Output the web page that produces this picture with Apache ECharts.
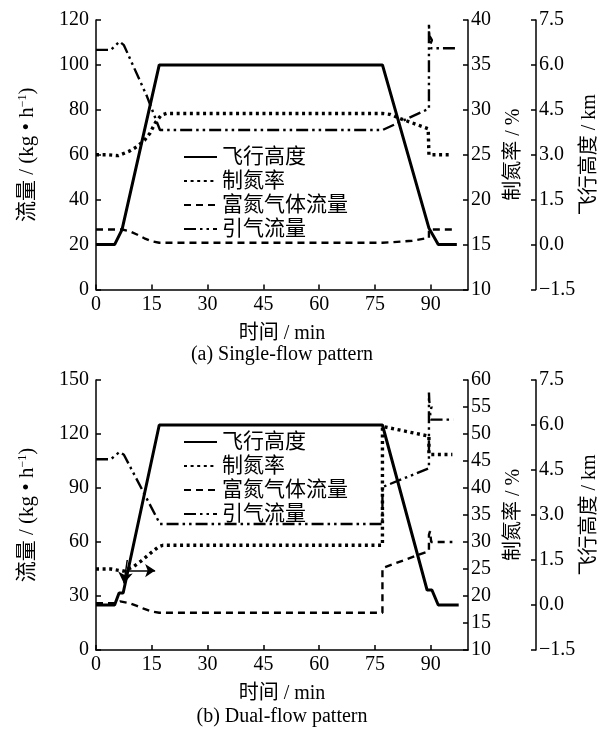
<!DOCTYPE html>
<html>
<head>
<meta charset="utf-8">
<script src="https://cdn.jsdelivr.net/npm/echarts@6/dist/echarts.min.js"></script>
<style>
  html, body { margin: 0; padding: 0; background: #fff; }
  #chart { width: 601px; height: 732px; }
</style>
</head>
<body>
<div id="chart"></div>
<script>
// ---------- (a) Single-flow pattern ----------
const altA_t   = [0, 5, 7, 17, 77, 89.5, 92, 97];
const altA     = [0, 0, 0.5, 6, 6, 0.55, 0, 0];                       // km

const rateA_t  = [0, 3, 6, 9, 11, 13, 14.5, 16, 17.5, 19, 77, 79, 82, 86, 89.3, 89.5, 95];
const rateA    = [25, 25, 24.9, 25.4, 25.9, 26.6, 27.4, 28.6, 29.4, 29.6, 29.6, 29.5, 29.0, 28.4, 27.9, 25, 25]; // %

const nflowA_t = [0, 7, 9, 11, 13, 15, 17, 77, 80, 85, 89.5, 89.5, 97];
const nflowA   = [26.7, 26.7, 26, 24.5, 22.8, 21.5, 20.8, 20.8, 21.1, 21.7, 23, 26.7, 26.7]; // kg/h

const bleedA_t = [0, 4, 6.3, 7.5, 13.7, 17.2, 77, 89.5, 89.5, 89.6, 90.3, 89.8, 90, 97];
const bleedA   = [106.7, 106.7, 110.4, 108.8, 86, 71, 71, 80.5, 118.5, 113, 111, 109, 107.4, 107.4]; // kg/h

// ---------- (b) Dual-flow pattern ----------
const altB_t   = [0, 5, 6.2, 7.3, 17, 77, 89, 90.3, 92, 97.5];
const altB     = [0, 0, 0.4, 0.4, 6, 6, 0.5, 0.5, 0, 0];

const rateB_t  = [0, 4, 7.4, 10, 12, 14.6, 16.8, 18, 77, 77, 89.5, 89.5, 95.8];
const rateB    = [25, 25, 24.6, 25.4, 26.4, 27.9, 29.1, 29.4, 29.4, 51.4, 49.6, 46.2, 46.2];

const nflowB_t = [0, 5, 6.5, 9, 11, 13, 15, 17, 77, 77, 89.5, 89.5, 89.8, 90.1, 95.8];
const nflowB   = [26, 26, 27, 26, 24.5, 22.8, 21.4, 20.7, 20.7, 45.5, 55, 64, 66, 60, 60];

const bleedB_t = [0, 4, 6.3, 7.5, 17.2, 77, 77, 89.5, 89.5, 89.6, 90.2, 89.8, 90, 96];
const bleedB   = [106, 106, 110, 108.5, 70, 70, 90.5, 101, 143, 138, 135, 132, 128, 128];

// annotation arrows in panel (b): [start, end] in data units
const arrowRateB = [[7.8, 24.7], [15.9, 24.7]];   // time, %
const arrowAltB  = [[8.4, 1.5], [7.5, 0.72]];     // time, km

// axis ranges
const timeAxis  = { min: 0, max: 100, interval: 15 };
const flowAxisA = { min: 0, max: 120, interval: 20 };
const flowAxisB = { min: 0, max: 150, interval: 30 };
const rateAxisA = { min: 10, max: 40, interval: 5 };
const rateAxisB = { min: 10, max: 60, interval: 5 };
const altAxis   = { min: -1.5, max: 7.5, interval: 1.5 };

const names = ['飞行高度', '制氮率', '富氮气体流量', '引气流量'];

const FONT = "'Liberation Serif', 'Noto Sans CJK SC', serif";
const INK = '#000';

function pairs(t, v) { return t.map((x, i) => [x, v[i]]); }

const lineStyles = {
  '飞行高度':   { width: 3, type: 'solid' },
  '制氮率':     { width: 3.4, type: [3, 3.6] },
  '富氮气体流量': { width: 2.4, type: [7, 5] },
  '引气流量':   { width: 2.4, type: [12, 4, 2.5, 4, 2.5, 4] }
};

function axisCommon() {
  return {
    axisLine: { show: true, lineStyle: { color: INK, width: 1.5 } },
    axisTick: { show: true, inside: true, length: 5, lineStyle: { color: INK, width: 1.5 } },
    splitLine: { show: false },
    nameTextStyle: { fontFamily: FONT, fontSize: 20, color: INK }
  };
}

function xAxisFor(gi) {
  return Object.assign(axisCommon(), {
    type: 'value', gridIndex: gi,
    min: timeAxis.min, max: timeAxis.max, interval: timeAxis.interval,
    name: '时间 / min', nameLocation: 'middle', nameGap: 34,
    axisLabel: { fontFamily: FONT, fontSize: 20, color: INK, margin: 5, showMaxLabel: false }
  });
}

function yAxesFor(gi, flowRange, rateRange) {
  const left = Object.assign(axisCommon(), {
    type: 'value', gridIndex: gi, position: 'left',
    min: flowRange.min, max: flowRange.max, interval: flowRange.interval,
    name: '流量 / (kg • h{s|−1})', nameLocation: 'middle', nameRotate: 90, nameGap: 58,
    axisLabel: { fontFamily: FONT, fontSize: 20, color: INK, margin: 7 }
  });
  left.nameTextStyle = { fontFamily: FONT, fontSize: 21, color: INK,
    rich: { s: { fontFamily: FONT, fontSize: 12, color: INK, verticalAlign: 'top' } } };

  const rate = Object.assign(axisCommon(), {
    type: 'value', gridIndex: gi, position: 'right', offset: 0,
    min: rateRange.min, max: rateRange.max, interval: rateRange.interval,
    name: '制氮率 / %', nameLocation: 'middle', nameRotate: 90, nameGap: 36,
    axisLabel: { fontFamily: FONT, fontSize: 20, color: INK, margin: 3 }
  });

  const alt = Object.assign(axisCommon(), {
    type: 'value', gridIndex: gi, position: 'right', offset: 68,
    min: altAxis.min, max: altAxis.max, interval: altAxis.interval,
    name: '飞行高度 / km', nameLocation: 'middle', nameRotate: 90, nameGap: 44,
    nameMoveOverlap: false,
    axisLabel: { fontFamily: FONT, fontSize: 20, color: INK, margin: 3,
      formatter: v => v.toFixed(1).replace('-', '\u2212') }
  });
  return [left, rate, alt];
}

function seriesFor(gi, yBase, d) {
  const mk = (name, yIdx, t, v, extra) => Object.assign({
    name, type: 'line', xAxisIndex: gi, yAxisIndex: yBase + yIdx,
    data: pairs(t, v), symbol: 'none', showSymbol: false, smooth: false,
    lineStyle: Object.assign({ color: INK }, lineStyles[name]),
    itemStyle: { color: INK }, animation: false, z: 3
  }, extra || {});
  return [
    mk('飞行高度', 2, d.altT, d.alt, d.altExtra),
    mk('制氮率', 1, d.rateT, d.rate, d.rateExtra),
    mk('富氮气体流量', 0, d.nflowT, d.nflow),
    mk('引气流量', 0, d.bleedT, d.bleed)
  ];
}

function arrowMark(seg, size) {
  return {
    silent: true, symbol: ['none', 'arrow'], symbolSize: size,
    label: { show: false },
    lineStyle: { color: INK, width: 1.5, type: 'solid' },
    itemStyle: { color: INK },
    data: [[{ coord: seg[0] }, { coord: seg[1] }]],
    animation: false
  };
}

function legendFor(top) {
  return {
    orient: 'vertical', left: 183, top: top, padding: 0,
    itemWidth: 33, itemHeight: 14, itemGap: 3,
    itemStyle: { opacity: 0 },
    textStyle: { fontFamily: FONT, fontSize: 21, color: INK, lineHeight: 20 },
    data: names, selectedMode: false
  };
}

const yA = yAxesFor(0, flowAxisA, rateAxisA);
const yB = yAxesFor(1, flowAxisB, rateAxisB);

const option = {
  backgroundColor: '#fff',
  animation: false,
  grid: [
    { left: 96, top: 20, width: 372, height: 269.5, containLabel: false, outerBoundsMode: 'none' },
    { left: 96, top: 380, width: 372, height: 270, containLabel: false, outerBoundsMode: 'none' }
  ],
  xAxis: [xAxisFor(0), xAxisFor(1)],
  yAxis: yA.concat(yB),
  legend: [legendFor(146.5), legendFor(431.5)],
  series: seriesFor(0, 0, {
    altT: altA_t, alt: altA, rateT: rateA_t, rate: rateA,
    nflowT: nflowA_t, nflow: nflowA, bleedT: bleedA_t, bleed: bleedA
  }).concat(seriesFor(1, 3, {
    altT: altB_t, alt: altB, rateT: rateB_t, rate: rateB,
    nflowT: nflowB_t, nflow: nflowB, bleedT: bleedB_t, bleed: bleedB,
    altExtra: { markLine: arrowMark(arrowAltB, 11) },
    rateExtra: { markLine: arrowMark(arrowRateB, 10) }
  })),
  graphic: [
    { type: 'text', x: 282, y: 355, style: { text: '(a) Single-flow pattern', font: "20px 'Liberation Serif'", fill: INK, align: 'center', verticalAlign: 'middle' } },
    { type: 'text', x: 282, y: 717, style: { text: '(b) Dual-flow pattern', font: "20px 'Liberation Serif'", fill: INK, align: 'center', verticalAlign: 'middle' } }
  ]
};

const chart = echarts.init(document.getElementById('chart'), null, { renderer: 'canvas' });
chart.setOption(option);
</script>
</body>
</html>
